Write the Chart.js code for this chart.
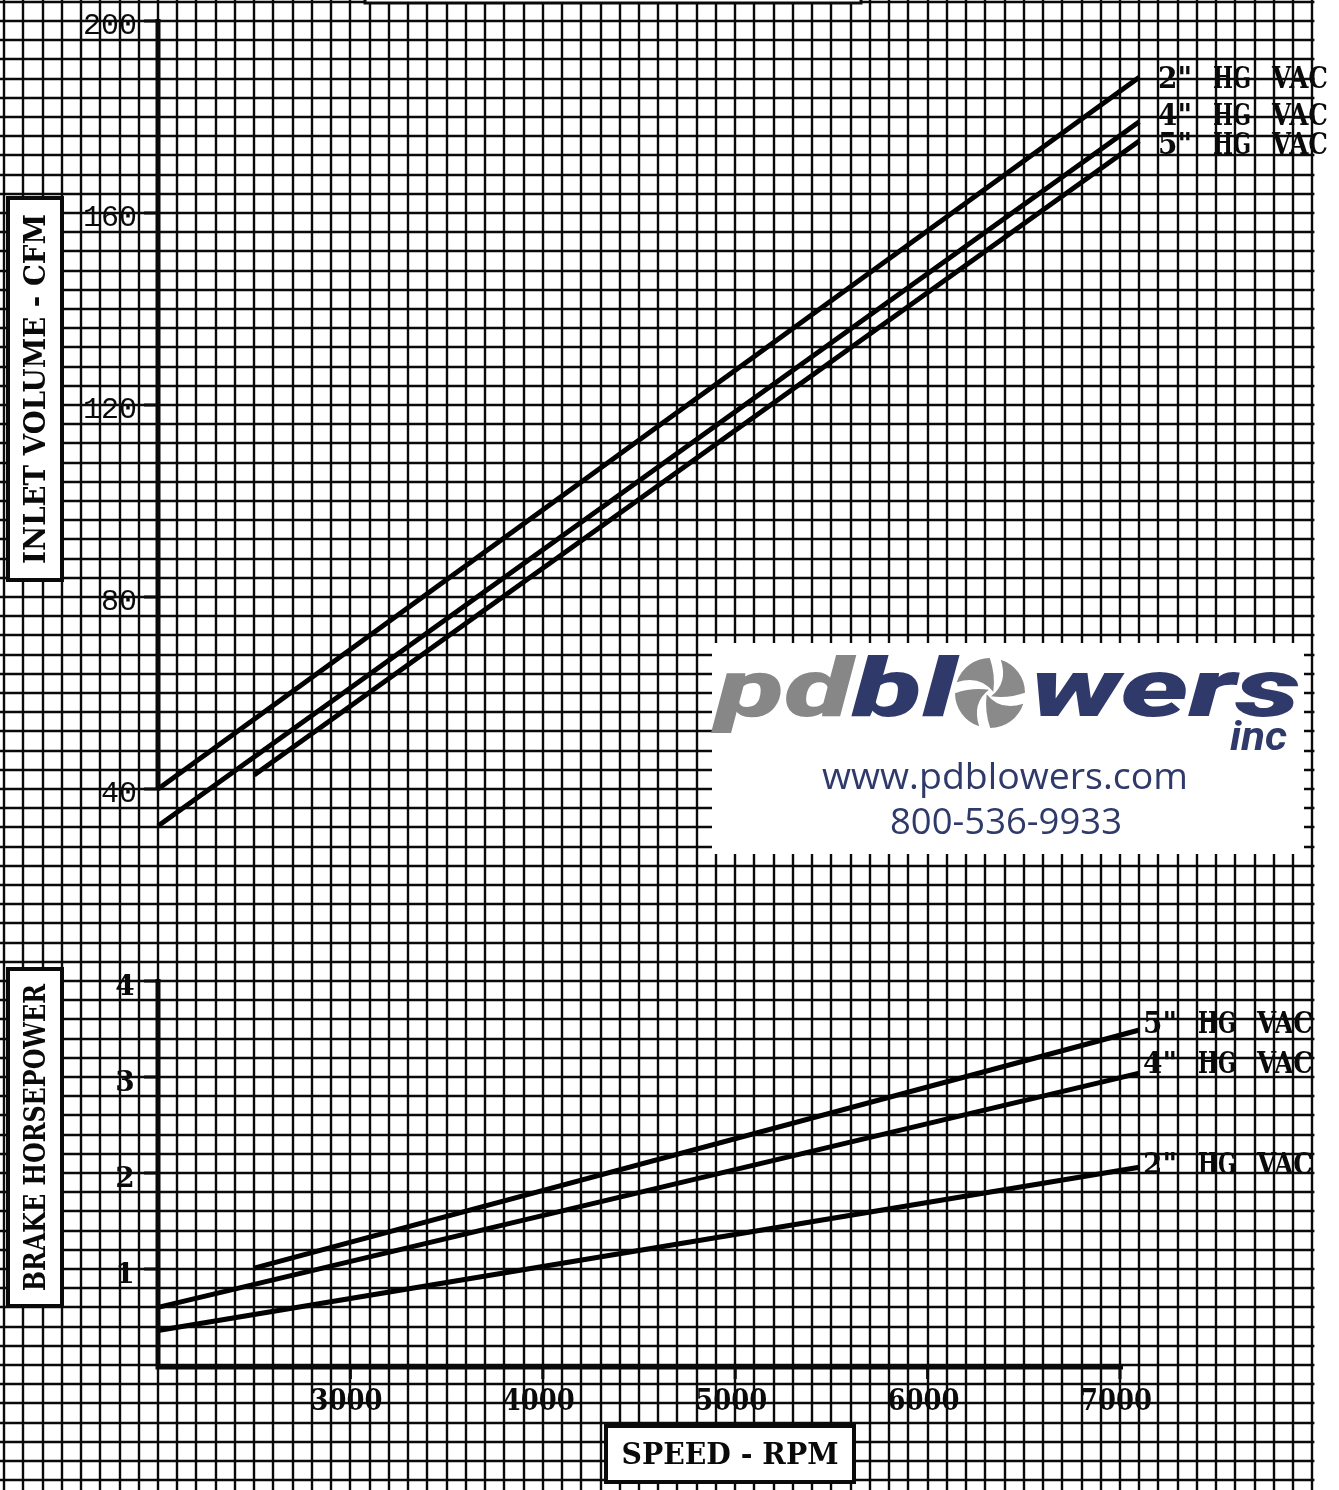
<!DOCTYPE html>
<html>
<head>
<meta charset="utf-8">
<script src="https://cdn.jsdelivr.net/npm/chart.js@4"></script>
<style>
  body { margin: 0; background: #fff; overflow: hidden; }
  canvas { display: block; }
</style>
</head>
<body>
<canvas id="perfChart" width="1339" height="1490"></canvas>
<script>
// Blower performance data
const speedFull = [2000, 7100];   // rpm, 2" and 4" curves
const speedFive = [2500, 7100];   // rpm, 5" curves start later
const cfm2 = [40, 188.3];
const cfm4 = [32.3, 179];
const cfm5 = [42.9, 175];
const bhp2 = [0.36, 2.06];
const bhp4 = [0.60, 3.04];
const bhp5 = [1.01, 3.49];

const rpmTicks = [3000, 4000, 5000, 6000, 7000];
const cfmTicks = [40, 80, 120, 160, 200];
const bhpTicks = [1, 2, 3, 4];
const curveNames = ['2" HG VAC', '4" HG VAC', '5" HG VAC'];

const INK = '#0a0a0a';
const MONO = '"Liberation Mono", "DejaVu Sans Mono", monospace';
const SLAB = '"DejaVu Serif", "Liberation Serif", serif';

function pts(xs, ys) {
    return xs.map((x, i) => ({ x: x, y: ys[i] }));
}

function lineSet(label, xs, ys, axis) {
    return {
        label: label,
        data: pts(xs, ys),
        yAxisID: axis,
        borderColor: '#000',
        borderWidth: 5,
        pointRadius: 0,
        tension: 0,
        fill: false
    };
}

// graph paper grid, drawn from the scales
const paperPlugin = {
    id: 'paper',
    beforeDatasetsDraw(chart) {
        const ctx = chart.ctx;
        const x = chart.scales.x;
        const y = chart.scales.yCfm;
        const right = x.getPixelForValue(8000) + 2;
        ctx.save();
        ctx.fillStyle = '#fff';
        ctx.fillRect(0, 0, chart.width, chart.height);
        ctx.strokeStyle = INK;
        ctx.lineWidth = 2.4;
        for (let r = 1200; r <= 8000; r += 100) {
            const px = Math.round(x.getPixelForValue(r));
            ctx.beginPath();
            ctx.moveTo(px, 0);
            ctx.lineTo(px, chart.height);
            ctx.stroke();
        }
        for (let c = -104; c <= 204; c += 4) {
            const py = Math.round(y.getPixelForValue(c));
            ctx.beginPath();
            ctx.moveTo(0, py);
            ctx.lineTo(right, py);
            ctx.stroke();
        }
        ctx.restore();
    }
};

// text squeezed or stretched to a width
function fitText(ctx, text, x, y, w) {
    const m = ctx.measureText(text).width;
    ctx.save();
    ctx.translate(x, y);
    ctx.scale(w / m, 1);
    ctx.fillText(text, 0, 0);
    ctx.restore();
}

function boxedText(ctx, text, x, y, w, h, textW, rotate) {
    ctx.save();
    ctx.fillStyle = '#fff';
    ctx.fillRect(x, y, w, h);
    ctx.lineWidth = 4;
    ctx.strokeStyle = INK;
    ctx.strokeRect(x, y, w, h);
    ctx.translate(x + w / 2, y + h / 2);
    if (rotate) ctx.rotate(-Math.PI / 2);
    ctx.fillStyle = INK;
    ctx.font = 'bold 30px ' + SLAB;
    ctx.textAlign = 'center';
    ctx.textBaseline = 'middle';
    fitText(ctx, text, 0, 2, textW);
    ctx.restore();
}

function curveLabel(ctx, text, x, y) {
    const words = text.split(' ');
    const offs = [0, 55, 114];
    const widths = [34, 38, 56];
    words.forEach((w, i) => fitText(ctx, w, x + offs[i], y, widths[i]));
}

function drawFan(ctx, cx, cy, r) {
    ctx.save();
    ctx.translate(cx, cy);
    ctx.fillStyle = '#8a8a8a';
    for (let i = 0; i < 4; i++) {
        const a0 = i * Math.PI / 2 - Math.PI * 0.9;
        const p = (rad, a) => [rad * Math.cos(a), rad * Math.sin(a)];
        ctx.beginPath();
        ctx.moveTo(...p(r, a0));
        ctx.arc(0, 0, r, a0, a0 + 1.25);
        ctx.quadraticCurveTo(...p(r * 0.55, a0 + 1.55), ...p(r * 0.1, a0 + 2.5));
        ctx.quadraticCurveTo(...p(r * 0.6, a0 + 0.75), ...p(r, a0));
        ctx.fill();
    }
    ctx.restore();
}

const decorPlugin = {
    id: 'decor',
    afterDatasetsDraw(chart) {
        const ctx = chart.ctx;
        const x = chart.scales.x;
        const yc = chart.scales.yCfm;
        const yh = chart.scales.yHp;
        const x0 = x.getPixelForValue(2000);
        ctx.save();
        ctx.strokeStyle = INK;
        ctx.fillStyle = INK;

        // upper CFM axis
        ctx.lineWidth = 5;
        ctx.beginPath();
        ctx.moveTo(x0, yc.getPixelForValue(200) - 2);
        ctx.lineTo(x0, yc.getPixelForValue(40) + 1);
        ctx.stroke();
        ctx.lineWidth = 3;
        ctx.font = '30px ' + MONO;
        ctx.textAlign = 'left';
        ctx.textBaseline = 'middle';
        cfmTicks.forEach(v => {
            const py = yc.getPixelForValue(v);
            ctx.beginPath();
            ctx.moveTo(x0 - 14, py);
            ctx.lineTo(x0, py);
            ctx.stroke();
            const s = String(v);
            fitText(ctx, s, x0 - 21 - s.length * 18, py + 5, s.length * 18);
        });

        // lower BHP axis
        ctx.lineWidth = 5;
        ctx.beginPath();
        ctx.moveTo(x0, yh.getPixelForValue(4) - 2);
        ctx.lineTo(x0, yh.getPixelForValue(0) + 2);
        ctx.lineTo(x.getPixelForValue(7000) + 3, yh.getPixelForValue(0) + 2);
        ctx.stroke();
        ctx.lineWidth = 3;
        ctx.font = 'bold 28px ' + SLAB;
        ctx.textAlign = 'center';
        bhpTicks.forEach(v => {
            const py = yh.getPixelForValue(v);
            ctx.beginPath();
            ctx.moveTo(x0 - 14, py);
            ctx.lineTo(x0, py);
            ctx.stroke();
            ctx.fillText(String(v), x0 - 33, py + 7);
        });

        // rpm ticks
        ctx.font = 'bold 29px ' + SLAB;
        const axisY = yh.getPixelForValue(0) + 2;
        rpmTicks.forEach(v => {
            const px = x.getPixelForValue(v);
            ctx.beginPath();
            ctx.moveTo(px, axisY);
            ctx.lineTo(px, axisY + 12);
            ctx.stroke();
            fitText(ctx, String(v), px - 4, axisY + 35, 72);
        });

        // curve labels
        ctx.textAlign = 'left';
        ctx.font = 'bold 30px ' + SLAB;
        curveLabel(ctx, curveNames[0], 1158, 80);
        curveLabel(ctx, curveNames[1], 1158, 117);
        curveLabel(ctx, curveNames[2], 1158, 146);
        curveLabel(ctx, curveNames[2], 1143, 1025);
        curveLabel(ctx, curveNames[1], 1143, 1065);
        curveLabel(ctx, curveNames[0], 1143, 1166);

        // title boxes
        boxedText(ctx, 'INLET VOLUME - CFM', 8, 198, 54, 382, 350, true);
        boxedText(ctx, 'BRAKE HORSEPOWER', 8, 969, 54, 337, 307, true);
        boxedText(ctx, 'SPEED - RPM', 606, 1426, 248, 56, 217, false);

        // partial box at the top edge
        ctx.fillStyle = '#fff';
        ctx.fillRect(365, -10, 496, 13);
        ctx.lineWidth = 3;
        ctx.strokeRect(365, -10, 496, 13);

        // logo panel
        ctx.fillStyle = '#fff';
        ctx.fillRect(712, 643, 592, 211);
        ctx.textAlign = 'left';
        ctx.textBaseline = 'alphabetic';
        ctx.font = 'italic 900 82px Roboto, "Liberation Sans", sans-serif';
        ctx.fillStyle = '#878787';
        fitText(ctx, 'pd', 716, 716, 136);
        ctx.fillStyle = '#2f3a6b';
        fitText(ctx, 'bl', 852, 716, 104);
        fitText(ctx, 'wers', 1030, 716, 270);
        drawFan(ctx, 990, 693, 35);
        ctx.font = 'italic bold 40px Roboto, "Liberation Sans", sans-serif';
        fitText(ctx, 'inc', 1230, 750, 57);
        ctx.font = '37px "Open Sans", sans-serif';
        ctx.textAlign = 'center';
        fitText(ctx, 'www.pdblowers.com', 1005, 789, 366);
        fitText(ctx, '800-536-9933', 1006, 834, 232);
        ctx.restore();
    }
};

const ctx = document.getElementById('perfChart').getContext('2d');
const perfChart = new Chart(ctx, {
    type: 'line',
    data: {
        datasets: [
            lineSet(curveNames[0], speedFull, cfm2, 'yCfm'),
            lineSet(curveNames[1], speedFull, cfm4, 'yCfm'),
            lineSet(curveNames[2], speedFive, cfm5, 'yCfm'),
            lineSet(curveNames[0], speedFull, bhp2, 'yHp'),
            lineSet(curveNames[1], speedFull, bhp4, 'yHp'),
            lineSet(curveNames[2], speedFive, bhp5, 'yHp')
        ]
    },
    options: {
        responsive: false,
        animation: false,
        layout: { padding: 0 },
        plugins: {
            legend: { display: false },
            tooltip: { enabled: false }
        },
        scales: {
            x: { type: 'linear', min: 1178.8, max: 8138.2, display: false },
            yCfm: { type: 'linear', min: -106.04, max: 204.375, display: false },
            yHp: { type: 'linear', min: -1.302, max: 14.219, display: false }
        }
    },
    plugins: [paperPlugin, decorPlugin]
});
</script>
</body>
</html>
